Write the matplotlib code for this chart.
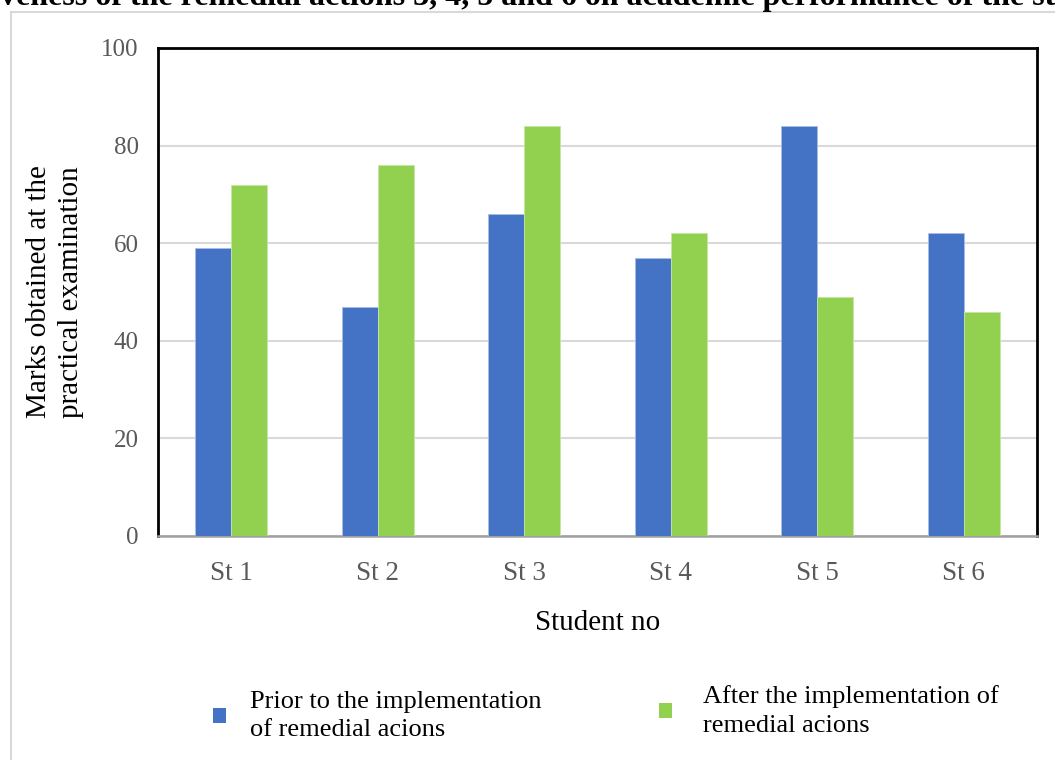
import matplotlib
matplotlib.use("Agg")
import matplotlib.pyplot as plt
import numpy as np
from matplotlib.patches import Rectangle, Patch

categories = ["St 1", "St 2", "St 3", "St 4", "St 5", "St 6"]
prior = [59, 47, 66, 57, 84, 62]
after = [72, 76, 84, 62, 49, 46]
series_labels = ["Prior to the implementation\nof remedial acions",
                 "After the implementation of\nremedial acions"]
y_ticks = [0, 20, 40, 60, 80, 100]
title_text = "Effectiveness of the remedial actions 3, 4, 5 and 6 on academic performance of the students"

plt.rcParams['font.family'] = ['Liberation Serif', 'DejaVu Serif']

W, H = 1055, 760
fig = plt.figure(figsize=(W / 100, H / 100), dpi=100)
fig.patch.set_facecolor("white")

# outer chart border (light gray)
fig.add_artist(Rectangle((11 / W, -0.05), 1.1, 1 - 12 / H + 0.05, transform=fig.transFigure,
                         fill=False, edgecolor="#d9d9d9", lw=1.5, zorder=0))

ax = fig.add_axes([158 / W, 1 - 536 / H, (1037 - 158) / W, (536 - 48) / H])
x = np.arange(len(categories))
w = 0.245
blue = "#4472C4"
green = "#92D050"
ax.bar(x - w / 2, prior, w, color=blue, edgecolor="#a9bde6", lw=0.6, zorder=3)
ax.bar(x + w / 2, after, w, color=green, edgecolor="#c5e6a3", lw=0.6, zorder=3)

ax.set_xlim(-0.5, len(categories) - 0.5)
ax.set_ylim(0, 100)
ax.set_yticks(y_ticks)
ax.set_xticks(x)
ax.set_xticklabels(categories)
ax.tick_params(axis="both", length=0, colors="#595959")
ax.tick_params(axis="y", pad=14, labelsize=18)
ax.tick_params(axis="x", pad=18, labelsize=19.5)
ax.grid(axis="y", color="#d9d9d9", lw=1.5, zorder=0)
ax.set_axisbelow(True)
for s in ["left", "top", "right"]:
    ax.spines[s].set_color("black")
    ax.spines[s].set_linewidth(2)
ax.spines["bottom"].set_color("#a0a0a0")
ax.spines["bottom"].set_linewidth(1.8)

ax.set_ylabel("Marks obtained at the\npractical examination", fontsize=21, color="black",
              labelpad=12, linespacing=1.3)
ax.set_xlabel("Student no", fontsize=21, color="black", labelpad=17)

# legends
leg1 = fig.legend(handles=[Patch(facecolor=blue)], labels=[series_labels[0]],
                  loc="center left", bbox_to_anchor=(213 / W, 1 - 716 / H),
                  frameon=False, fontsize=19, handlelength=0.5, handleheight=0.5,
                  handletextpad=0.9, borderpad=0, borderaxespad=0)
leg2 = fig.legend(handles=[Patch(facecolor=green)], labels=[series_labels[1]],
                  loc="center left", bbox_to_anchor=(659 / W, 1 - 711 / H),
                  frameon=False, fontsize=19, handlelength=0.5, handleheight=0.5,
                  handletextpad=1.15, borderpad=0, borderaxespad=0)
for lg in (leg1, leg2):
    for t in lg.get_texts():
        t.set_linespacing(1.4)

# cropped title at the very top
fig.canvas.draw()
r = fig.canvas.get_renderer()
tmp = fig.text(0, 0, "Effecti", fontsize=23, fontweight="bold")
pw = tmp.get_window_extent(renderer=r).width
tmp.remove()
fig.text(-pw / W, 1 - 5 / H, title_text, fontsize=23, fontweight="bold",
         va="baseline", ha="left")

fig.savefig("out.png", dpi=100)
